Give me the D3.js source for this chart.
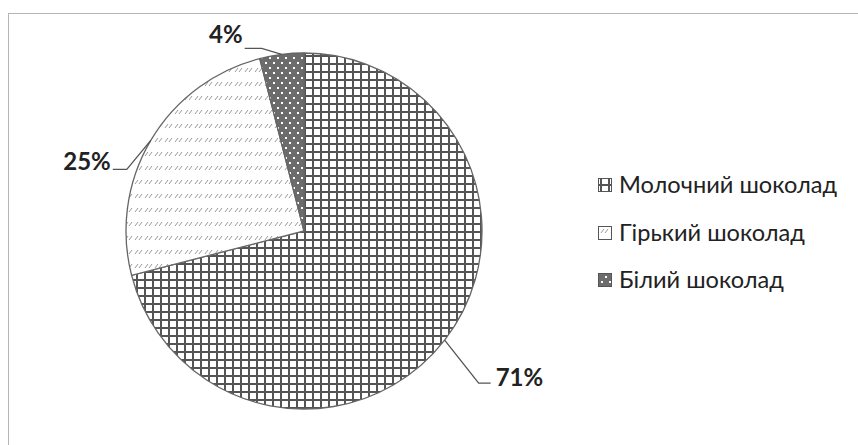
<!DOCTYPE html>
<html><head><meta charset="utf-8">
<script src="https://cdn.jsdelivr.net/npm/d3@7"></script>
<style>body{margin:0;background:#fff}svg{display:block}</style>
</head><body>
<svg id="chart" width="858" height="445"></svg>
<script>
// ---- data ----
const categories = ["Молочний шоколад", "Гірький шоколад", "Білий шоколад"];
const values = [71, 25, 4];
const labelTexts = ["71%", "25%", "4%"];
const patternIds = ["pMilk", "pDark", "pWhite"];

// ---- layout ----
const W = 858, H = 445;
const cx = 304, cy = 231, R = 178;
const font = "Lato, 'Open Sans', sans-serif";
// leader layout: elbow offset from edge point, then horizontal length, text offsets
const leaderLayout = [
  {ex: 34, ey: 43, hx: 12, tx: 5, ty: 3, anchor: "start"},
  {ex: -24, ey: 29, hx: -14, tx: -2, ty: 1, anchor: "end"},
  {ex: -20, ey: -6, hx: -17, tx: -2, ty: -5, anchor: "end"}
];

const svg = d3.select("#chart");
const defs = svg.append("defs");

// milk: grid
const pm = defs.append("pattern").attr("id", "pMilk").attr("patternUnits", "userSpaceOnUse")
  .attr("width", 8).attr("height", 8);
pm.append("rect").attr("width", 8).attr("height", 8).attr("fill", "#fff");
pm.append("rect").attr("x", 0).attr("y", 0).attr("width", 2).attr("height", 8).attr("fill", "#555");
pm.append("rect").attr("x", 0).attr("y", 0).attr("width", 8).attr("height", 2).attr("fill", "#555");

// dark: small diagonal dashes
const pd = defs.append("pattern").attr("id", "pDark").attr("patternUnits", "userSpaceOnUse")
  .attr("width", 10).attr("height", 14);
pd.append("rect").attr("width", 10).attr("height", 14).attr("fill", "#fff");
pd.append("path").attr("d", "M1,9 L4,5 M5,9 L8,5").attr("stroke", "#999").attr("stroke-width", 1).attr("fill", "none");

// white: dark gray with white dots
const pw = defs.append("pattern").attr("id", "pWhite").attr("patternUnits", "userSpaceOnUse")
  .attr("width", 8).attr("height", 10);
pw.append("rect").attr("width", 8).attr("height", 10).attr("fill", "#6c6c6c");
pw.append("rect").attr("x", 1).attr("y", 1).attr("width", 2).attr("height", 2).attr("fill", "#fff");
pw.append("rect").attr("x", 5).attr("y", 6).attr("width", 2).attr("height", 2).attr("fill", "#fff");

// frame
svg.append("rect").attr("x", 8.5).attr("y", 13.5).attr("width", 900).attr("height", 500)
  .attr("fill", "none").attr("stroke", "#b5b5b5").attr("stroke-width", 1);

const pie = d3.pie().sort(null).value(d => d)(values);
const arc = d3.arc().innerRadius(0).outerRadius(R);

const g = svg.append("g").attr("transform", `translate(${cx},${cy})`);
g.selectAll("path.slice").data(pie).join("path").attr("class", "slice")
  .attr("d", arc)
  .attr("fill", (d, i) => `url(#${patternIds[i]})`)
  .attr("stroke", "#666").attr("stroke-width", 1.3);

// leaders & labels
pie.forEach((d, i) => {
  const a = (d.startAngle + d.endAngle) / 2;
  const x0 = cx + R * Math.sin(a), y0 = cy - R * Math.cos(a);
  const L = leaderLayout[i];
  const x1 = x0 + L.ex, y1 = y0 + L.ey;
  const x2 = x1 + L.hx, y2 = y1;
  svg.append("path").attr("d", `M${x0},${y0}L${x1},${y1}L${x2},${y2}`)
    .attr("fill", "none").attr("stroke", "#555").attr("stroke-width", 1.3);
  svg.append("text").attr("x", x2 + L.tx).attr("y", y2 + L.ty)
    .attr("text-anchor", L.anchor)
    .attr("font-family", font).attr("font-weight", "bold").attr("font-size", 24)
    .attr("fill", "#222").text(labelTexts[i]);
});

// legend
const lg = svg.append("g");
const legY = [193, 241, 288];
categories.forEach((c, i) => {
  lg.append("rect").attr("x", 598.5).attr("y", legY[i] - 14.5).attr("width", 13).attr("height", 13)
    .attr("fill", `url(#${patternIds[i]})`).attr("stroke", "#555").attr("stroke-width", 1);
  lg.append("text").attr("x", 619).attr("y", legY[i])
    .attr("font-family", font).attr("font-size", 23.6).attr("fill", "#222").text(c);
});
</script>
</body></html>
